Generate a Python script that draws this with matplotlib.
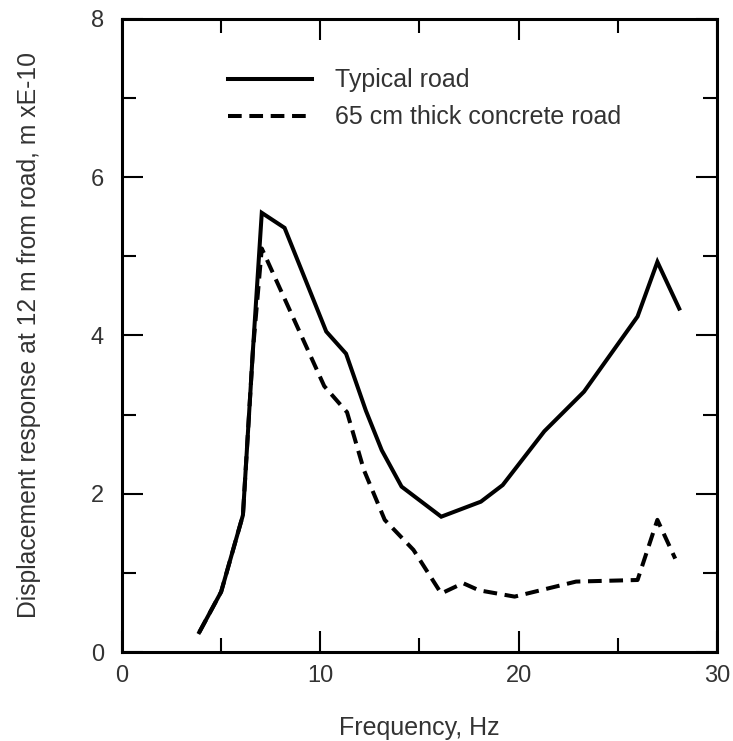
import matplotlib
matplotlib.use('Agg')
import matplotlib.pyplot as plt
from matplotlib.ticker import MultipleLocator

plt.rcParams['font.family'] = ['Liberation Sans', 'DejaVu Sans']
plt.rcParams['font.size'] = 17

# Typical road (solid)
freq_typical = [3.9, 5.0, 6.1, 6.6, 7.05, 8.2, 10.3, 11.3, 12.3, 13.1, 14.1,
                16.1, 18.1, 19.2, 21.3, 23.3, 26.0, 27.0, 28.1]
disp_typical = [0.25, 0.76, 1.73, 3.8, 5.55, 5.36, 4.05, 3.77, 3.05, 2.55, 2.09,
                1.71, 1.90, 2.11, 2.79, 3.29, 4.24, 4.93, 4.34]

# 65 cm thick concrete road (dashed)
freq_concrete = [3.9, 5.0, 6.1, 6.6, 7.05, 10.2, 11.35, 12.2, 13.25, 14.7,
                 16.1, 17.2, 18.0, 19.8, 22.9, 26.0, 27.0, 27.9]
disp_concrete = [0.25, 0.76, 1.73, 3.8, 5.1, 3.36, 3.03, 2.3, 1.67, 1.29,
                 0.74, 0.87, 0.78, 0.70, 0.89, 0.91, 1.67, 1.18]

labels = ['Typical road', '65 cm thick concrete road']
text_color = '#333333'

fig = plt.figure(figsize=(7.33, 7.41), dpi=100)
ax = fig.add_axes([0.1664, 0.1201, 0.8116, 0.8543])

ax.plot(freq_typical, disp_typical, color='black', linewidth=2.9,
        solid_joinstyle='miter', label=labels[0])
ax.plot(freq_concrete, disp_concrete, color='black', linewidth=2.9,
        linestyle=(0, (3.4, 1.9)), label=labels[1])

ax.set_xlim(0, 30)
ax.set_ylim(0, 8)
ax.xaxis.set_major_locator(MultipleLocator(10))
ax.xaxis.set_minor_locator(MultipleLocator(5))
ax.yaxis.set_major_locator(MultipleLocator(2))
ax.yaxis.set_minor_locator(MultipleLocator(1))

ax.tick_params(which='both', direction='in', top=True, right=True,
               width=1.5, colors='black', labelcolor=text_color)
ax.tick_params(which='major', length=15)
ax.tick_params(which='minor', length=10)
ax.tick_params(axis='x', which='major', pad=9)
ax.tick_params(axis='y', which='major', pad=13)

for spine in ax.spines.values():
    spine.set_linewidth(2.2)

ax.set_xlabel('Frequency, Hz', color=text_color, fontsize=18, labelpad=21)
ax.set_ylabel('Displacement response at 12 m from road, m xE-10',
              color=text_color, fontsize=17.8, labelpad=36)

ax.legend(loc='upper left', bbox_to_anchor=(0.178, 0.922), frameon=False,
          fontsize=18, borderpad=0, borderaxespad=0, handlelength=3.36,
          handletextpad=0.92, labelspacing=0.52, labelcolor=text_color)

fig.savefig('out.png', dpi=100)
